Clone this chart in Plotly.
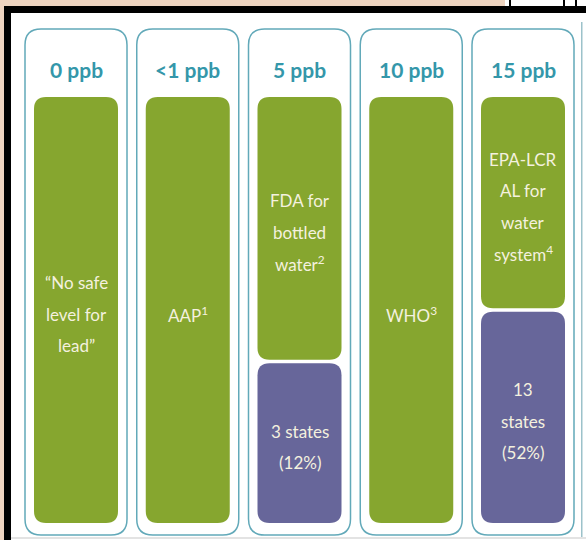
import plotly.graph_objects as go

# ---- data ----
categories = ["0 ppb", "<1 ppb", "5 ppb", "10 ppb", "15 ppb"]
standard_labels = [
    ["“No safe", "level for", "lead”"],
    ["AAP<sup>1</sup>"],
    ["FDA for", "bottled", "water<sup>2</sup>"],
    ["WHO<sup>3</sup>"],
    ["EPA-LCR", "AL for", "water", "system<sup>4</sup>"],
]
state_labels = [None, None, ["3 states", "(12%)"], None, ["13", "states", "(52%)"]]
state_segment = [0, 0, 37.5, 0, 49.6]   # height of the purple segment (bar = 0..100)
bar_full = 100

# ---- styling / scale ----
W, H = 586, 540
PX_X = 111.75          # pixels per column step
PX_Y = 4.26            # pixels per bar unit
X0_PX, Y0_PX = 76, 523 # pixel position of column 0 centre / bar base
xr = [-X0_PX / PX_X, (W - X0_PX) / PX_X]
yr = [(Y0_PX - H) / PX_Y, Y0_PX / PX_Y]

GREEN = "#86a62f"
PURPLE = "#67669a"
TEAL_LINE = "#62a9b9"
TEAL_TEXT = "#3497aa"
CREAM = "#f4f1df"
FONT = "Lato, 'Open Sans', sans-serif"


def rrect(x0, x1, y0, y1, r_px):
    rx, ry = r_px / PX_X, r_px / PX_Y
    return (f"M{x0+rx},{y0} L{x1-rx},{y0} Q{x1},{y0} {x1},{y0+ry} "
            f"L{x1},{y1-ry} Q{x1},{y1} {x1-rx},{y1} L{x0+rx},{y1} "
            f"Q{x0},{y1} {x0},{y1-ry} L{x0},{y0+ry} Q{x0},{y0} {x0+rx},{y0} Z")


def px2paper(x, y):
    return x / W, 1 - y / H


shapes = []
annotations = []

# page background decoration (frame)
def paper_rect(x0, y0, x1, y1, fill, line=None, lw=0):
    a, b = px2paper(x0, y0)
    c, d = px2paper(x1, y1)
    shapes.append(dict(type="rect", xref="paper", yref="paper", x0=a, x1=c, y0=d, y1=b,
                       fillcolor=fill, line=dict(width=lw, color=line or fill), layer="below"))

paper_rect(505, -2, 590, 8, "white")
paper_rect(509, -2, 511, 8, "black")
paper_rect(563, -2, 565, 8, "black")
paper_rect(575, -2, 577, 8, "black")
paper_rect(4, 6, 600, 560, "black")
paper_rect(11, 13, 600, 560, "white")
paper_rect(11, 537.5, 600, 538.5, "#c8c8c8")
paper_rect(581, 22, 582.5, 537, "#9cc2ca")

# columns
half_out = 51 / PX_X
half_in = 42 / PX_X
col_bot = (Y0_PX - 535) / PX_Y
col_top = (Y0_PX - 29) / PX_Y
gap = 3.5 / PX_Y
for i, cat in enumerate(categories):
    shapes.append(dict(type="path", xref="x", yref="y",
                       path=rrect(i - half_out, i + half_out, col_bot, col_top, 16),
                       fillcolor="white", line=dict(color=TEAL_LINE, width=1.5), layer="above"))
    seg = state_segment[i]
    g0 = seg + gap if seg > 0 else 0
    shapes.append(dict(type="path", xref="x", yref="y",
                       path=rrect(i - half_in, i + half_in, g0, bar_full, 12),
                       fillcolor=GREEN, line=dict(width=0), layer="above"))
    annotations.append(dict(x=i, y=(Y0_PX - 69) / PX_Y, xref="x", yref="y", text=f"<b>{cat}</b>",
                            showarrow=False, font=dict(family=FONT, size=21, color=TEAL_TEXT)))

    def stack_text(lines, ymid):
        n = len(lines)
        step = 31.5 / PX_Y
        for k, t in enumerate(lines):
            yy = ymid + ((n - 1) / 2 - k) * step
            annotations.append(dict(x=i, y=yy, xref="x", yref="y", text=t, showarrow=False,
                                    font=dict(family=FONT, size=17, color=CREAM)))

    stack_text(standard_labels[i], (g0 + bar_full) / 2 - 4 / PX_Y)
    if seg > 0:
        shapes.append(dict(type="path", xref="x", yref="y",
                           path=rrect(i - half_in, i + half_in, 0, seg, 12),
                           fillcolor=PURPLE, line=dict(width=0), layer="above"))
        stack_text(state_labels[i], seg / 2 - 4 / PX_Y)

fig = go.Figure()
fig.add_trace(go.Scatter(x=list(range(len(categories))), y=[0] * len(categories),
                         mode="markers", marker=dict(opacity=0), hoverinfo="skip", showlegend=False))
fig.update_layout(
    width=W, height=H, margin=dict(l=0, r=0, t=0, b=0),
    paper_bgcolor="#eed4c0", plot_bgcolor="rgba(0,0,0,0)",
    xaxis=dict(range=xr, visible=False, fixedrange=True),
    yaxis=dict(range=yr, visible=False, fixedrange=True),
    shapes=shapes, annotations=annotations, showlegend=False,
)
fig.write_html("out.html")
